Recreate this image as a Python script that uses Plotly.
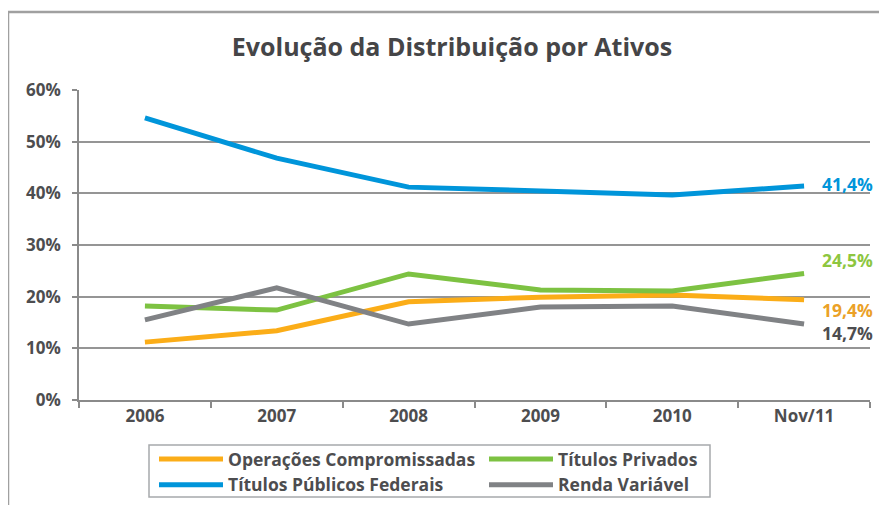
import plotly.graph_objects as go

categories = ["2006", "2007", "2008", "2009", "2010", "Nov/11"]
operacoes = [11.2, 13.4, 19.0, 19.9, 20.3, 19.4]
privados = [18.2, 17.4, 24.4, 21.3, 21.1, 24.5]
publicos = [54.6, 46.8, 41.2, 40.4, 39.7, 41.4]
renda = [15.5, 21.7, 14.7, 18.0, 18.2, 14.7]

series = [
    ("Operações Compromissadas", operacoes, "#FBAD18"),
    ("Títulos Privados", privados, "#7DC242"),
    ("Títulos Públicos Federais", publicos, "#0095DA"),
    ("Renda Variável", renda, "#808285"),
]
end_labels = [
    ("19,4%", 17.5, "#EBA127"),
    ("24,5%", 27.1, "#8DC63F"),
    ("41,4%", 41.8, "#0095DA"),
    ("14,7%", 13.0, "#4D4D4F"),
]

# page is offset by the 8px body margin; work in window pixels and subtract it
OFF = 8
W, H = 887 - OFF, 505 - OFF
L, T = 79 - OFF, 90 - OFF
R = W - (870 - OFF)
B = H - (400 - OFF)
pw, ph = W - L - R, H - T - B

def px(x):
    return (x - OFF - L) / pw

def py(y):
    return (H - B - (y - OFF)) / ph

fig = go.Figure()
for name, vals, col in series:
    fig.add_trace(go.Scatter(x=categories, y=vals, name=name, mode="lines",
                             line=dict(color=col, width=5)))

for txt, yv, col in end_labels:
    fig.add_annotation(x=5.33, y=yv, xref="x", yref="y", text="<b>" + txt + "</b>",
                       showarrow=False, font=dict(size=17.5, color=col, family="Open Sans"),
                       xanchor="center", yanchor="middle")

fig.update_layout(
    width=W, height=H,
    margin=dict(l=L, r=R, t=T, b=B, autoexpand=False),
    paper_bgcolor="white", plot_bgcolor="white",
    title=dict(text="<b>Evolução da Distribuição por Ativos</b>", x=(452 - OFF) / W,
               xanchor="center", y=1 - (47 - OFF) / H, yanchor="middle",
               font=dict(size=25, color="#454547", family="Open Sans")),
    showlegend=True,
    legend=dict(orientation="h", x=px(154), xanchor="left", y=py(441), yanchor="top",
                entrywidth=251, bgcolor="rgba(0,0,0,0)", borderwidth=0,
                font=dict(size=17.5, color="#4D4D4F", family="Open Sans", weight="bold"),
                tracegroupgap=0, itemwidth=64),
    shapes=[
        dict(type="line", xref="paper", yref="paper", x0=px(6), x1=px(887), y0=py(12), y1=py(12),
             line=dict(color="#A0A0A0", width=2.5)),
        dict(type="line", xref="paper", yref="paper", x0=px(8), x1=px(8), y0=py(12), y1=py(505),
             line=dict(color="#A0A0A0", width=2.5)),
        dict(type="rect", xref="paper", yref="paper", x0=px(149), x1=px(710), y0=py(445), y1=py(497),
             line=dict(color="#A7A9AC", width=1.5), fillcolor="rgba(0,0,0,0)"),
    ],
)
fig.update_xaxes(type="category", range=[-0.5, 5.5], showline=True, linecolor="#8A8A8A",
                 linewidth=1.5, automargin=False,
                 ticks="outside", tickson="boundaries", ticklen=6, tickcolor="#8A8A8A",
                 tickwidth=1.5, showgrid=False,
                 tickfont=dict(size=17, color="#4D4D4F", family="Open Sans", weight="bold"))
fig.update_yaxes(range=[0, 60], dtick=10, ticksuffix="%", showline=True, linecolor="#8A8A8A",
                 linewidth=1.5, ticks="outside", ticklen=5, tickcolor="#8A8A8A", tickwidth=1.5,
                 showgrid=True, gridcolor="#959595", gridwidth=1.5, zeroline=False,
                 automargin=False, ticklabelstandoff=8,
                 tickfont=dict(size=17, color="#4D4D4F", family="Open Sans", weight="bold"))

fig.write_html("out.html")
